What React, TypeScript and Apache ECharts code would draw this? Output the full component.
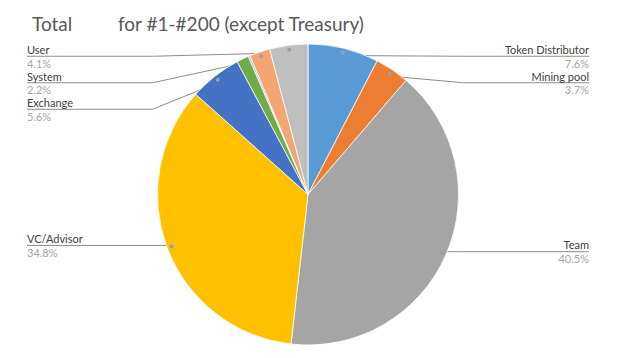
import React, { useEffect, useRef } from 'react';
import * as echarts from 'echarts';

// ---- data ----
const categories = ['Token Distributor', 'Mining pool', 'Team', 'VC/Advisor', 'Exchange', 'Other 1', 'Other 2', 'System', 'User'];
const shares = [7.6, 3.7, 40.5, 34.8, 5.6, 1.3, 0.2, 2.2, 4.1];
const showLabel = [true, true, true, true, true, false, false, true, true];
const sliceColors = ['#5B9BD5', '#ED7D31', '#A5A5A5', '#FFC000', '#4472C4', '#70AD47', '#9DC3E6', '#F3A673', '#BFBFBF'];
const titleMain = 'Total';
const titleSub = 'for #1-#200 (except Treasury)';

// ---- layout ----
const W = 623;
const H = 358;
const CX = 308;
const CY = 194.5;
const R = 150.5;
const DOT_R = 143;
const LEFT = 27;
const RIGHT = 589;
const TOP = 43;
const LINE_LEN = 4;
const FONT = 'Lato, "Open Sans", sans-serif';

export default function App() {
  const ref = useRef<HTMLDivElement>(null);
  useEffect(() => {
    if (!ref.current) return;
    const chart = echarts.init(ref.current, undefined, { renderer: 'svg' });
    const data = categories.map((name, i) => ({
      name,
      value: shares[i],
      itemStyle: { color: sliceColors[i] },
      label: { show: showLabel[i] },
      labelLine: { show: showLabel[i] },
    }));
    const dotData = categories.map((name, i) => ({
      name,
      value: shares[i],
      label: { show: showLabel[i] },
    }));
    chart.setOption({
      animation: false,
      backgroundColor: '#ffffff',
      title: {
        left: LEFT,
        top: 9,
        text: `{a|${titleMain}}{b|${titleSub}}`,
        textStyle: {
          fontWeight: 'normal',
          rich: {
            a: { fontFamily: FONT, fontSize: 19, fontWeight: 'normal', color: '#595959', width: 86 },
            b: { fontFamily: FONT, fontSize: 19, fontWeight: 'normal', color: '#595959' },
          },
        },
      },
      series: [
        {
          type: 'pie',
          left: LEFT,
          right: W - RIGHT,
          top: TOP,
          bottom: 0,
          center: [CX - LEFT, CY - TOP],
          radius: R,
          startAngle: 90,
          clockwise: true,
          avoidLabelOverlap: true,
          itemStyle: { borderColor: '#ffffff', borderWidth: 0.75 },
          label: {
            position: 'outside',
            alignTo: 'edge',
            edgeDistance: 0,
            formatter: (p: any) => `{n|${p.name}}\n{p|${Number(p.value).toFixed(1)}%}`,
            rich: {
              n: { fontFamily: FONT, fontSize: 11, color: '#404040', lineHeight: 13.5 },
              p: { fontFamily: FONT, fontSize: 11, color: '#A5A5A5', lineHeight: 13.5 },
            },
          },
          labelLine: {
            length: LINE_LEN,
            length2: 10,
            lineStyle: { color: '#8C8C8C', width: 1 },
          },
          labelLayout: (p: any) => {
            const pts = p.labelLinePoints;
            if (!pts || !pts.length) return {};
            const dx = pts[0][0] - CX;
            const dy = pts[0][1] - CY;
            const len = Math.hypot(dx, dy) || 1;
            const ux = dx / len;
            const uy = dy / len;
            const isRight = p.labelRect.x + p.labelRect.width / 2 > CX;
            let ly = pts[pts.length - 1][1];
            const natural = CY + uy * (R + LINE_LEN);
            const out: any = {};
            if (Math.abs(ly - natural) < 1) {
              ly = CY + uy * DOT_R;
              out.y = ly;
            }
            out.labelLinePoints = [
              [CX + ux * DOT_R, CY + uy * DOT_R],
              [isRight ? CX + R + 5 : CX - R - 5, ly],
              [isRight ? RIGHT : LEFT, ly],
            ];
            return out;
          },
          emphasis: { disabled: true },
          data,
        },
        {
          type: 'pie',
          silent: true,
          left: LEFT,
          right: W - RIGHT,
          top: TOP,
          bottom: 0,
          center: [CX - LEFT, CY - TOP],
          radius: [DOT_R * 2 - R, R],
          startAngle: 90,
          clockwise: true,
          avoidLabelOverlap: false,
          itemStyle: { color: 'rgba(0,0,0,0)', borderWidth: 0 },
          label: {
            position: 'inside',
            formatter: '{d|}',
            rich: { d: { width: 4, height: 4, borderRadius: 2, backgroundColor: '#A0A0A0' } },
          },
          labelLine: { show: false },
          emphasis: { disabled: true },
          data: dotData,
        },
      ],
    });
    return () => chart.dispose();
  }, []);
  return (
    <div
      ref={ref}
      style={{ position: 'fixed', left: 0, top: 0, width: W, height: H, background: '#fff' }}
    />
  );
}
